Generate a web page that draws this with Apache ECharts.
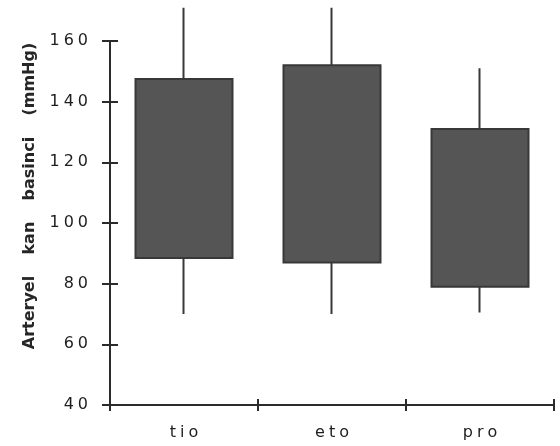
<!DOCTYPE html>
<html>
<head>
<meta charset="utf-8">
<script src="https://cdn.jsdelivr.net/npm/echarts@6/dist/echarts.min.js"></script>
<style>
    html, body { margin: 0; padding: 0; background: #fff; }
    #chart { width: 560px; height: 446px; }
</style>
</head>
<body>
<div id="chart"></div>
<script>
// Arterial blood pressure by group
var groups = ['tio', 'eto', 'pro'];
var boxLow = [88.5, 87, 79];      // bottom of box
var boxHigh = [147.5, 152, 131];  // top of box
var whiskerLow = [70, 70, 70.5];
var whiskerHigh = [171, 171, 151];
var yTicks = [40, 60, 80, 100, 120, 140, 160];
var yName = 'Arteryel kan basinci (mmHg)';

// spread letters like the typewriter-looking original
function spaced(s, sep) {
    return s.split('').join(sep);
}

var chart = echarts.init(document.getElementById('chart'));

var boxData = groups.map(function (g, i) {
    return [boxLow[i], boxHigh[i], whiskerLow[i], whiskerHigh[i]];
});

var lineStyle = { color: '#2b2b2b', width: 2 };
var font = 'DejaVu Sans';

var option = {
    animation: false,
    backgroundColor: '#ffffff',
    grid: {
        left: 110,
        right: 6,
        top: 41,
        bottom: 41
    },
    xAxis: [
        {
            type: 'category',
            data: groups,
            position: 'bottom',
            axisLine: { lineStyle: lineStyle },
            axisTick: { show: true, length: 6, lineStyle: lineStyle },
            axisLabel: {
                margin: 20,
                color: '#1e1e1e',
                fontFamily: font,
                fontSize: 16,
                formatter: function (v) { return spaced(v, '\u2005'); }
            }
        },
        {
            type: 'category',
            data: groups,
            position: 'bottom',
            axisLine: { show: false },
            axisTick: { show: true, inside: true, length: 6, lineStyle: lineStyle },
            axisLabel: { show: false }
        }
    ],
    yAxis: [
        {
            type: 'value',
            min: yTicks[0],
            max: yTicks[yTicks.length - 1],
            interval: 20,
            splitLine: { show: false },
            axisLine: { show: true, lineStyle: lineStyle },
            axisTick: { show: true, length: 8, lineStyle: lineStyle },
            axisLabel: {
                margin: 22,
                color: '#1e1e1e',
                fontFamily: font,
                fontSize: 16,
                formatter: function (v) { return spaced(String(v), '\u2005'); }
            }
        },
        {
            type: 'value',
            min: yTicks[0],
            max: yTicks[yTicks.length - 1],
            interval: 20,
            position: 'left',
            splitLine: { show: false },
            axisLine: { show: false },
            axisTick: { show: true, inside: true, length: 8, lineStyle: lineStyle },
            axisLabel: { show: false }
        }
    ],
    graphic: [
        {
            type: 'text',
            x: 30,
            y: 196,
            rotation: Math.PI / 2,
            style: {
                text: yName.split(' ').join('\u2003\u2004'),
                fill: '#262626',
                font: 'bold 16px "DejaVu Sans"',
                align: 'center',
                verticalAlign: 'middle'
            }
        }
    ],
    series: [
        {
            type: 'candlestick',
            data: boxData,
            barWidth: 98,
            clip: false,
            itemStyle: {
                color: '#555555',
                color0: '#555555',
                borderColor: '#383838',
                borderColor0: '#383838',
                borderWidth: 2
            }
        }
    ]
};

chart.setOption(option);
</script>
</body>
</html>
